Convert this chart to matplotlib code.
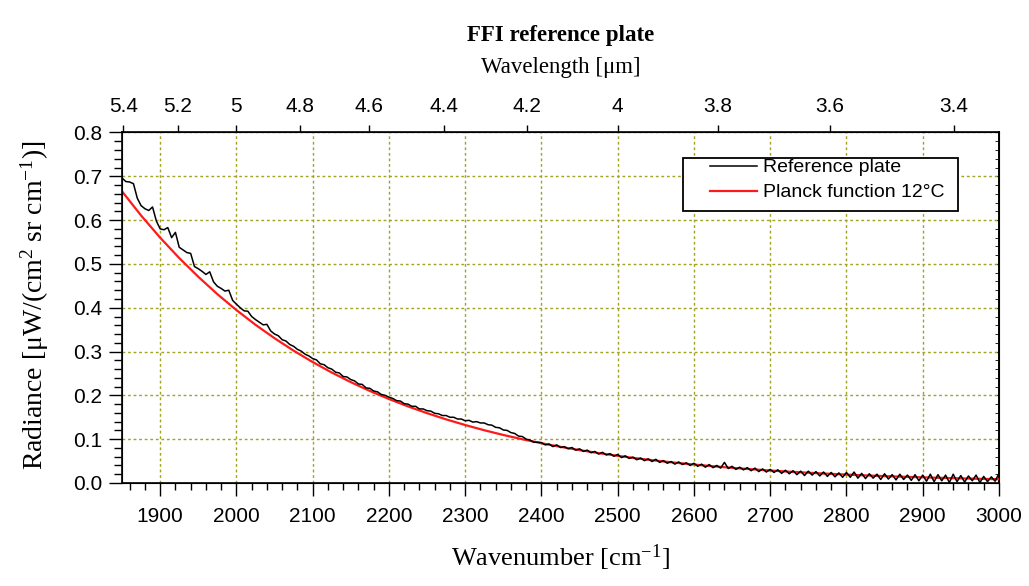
import numpy as np
import matplotlib.pyplot as plt
from matplotlib.ticker import MultipleLocator
from matplotlib.patches import Rectangle

plt.rcParams['mathtext.fontset'] = 'custom'
plt.rcParams['mathtext.rm'] = 'Liberation Serif'
plt.rcParams['mathtext.it'] = 'Liberation Serif:italic'

# measured plate spectrum, 5 cm-1 steps from 1850 to 3000
wavenumber = np.arange(1850, 3001, 5)
radiance = [
    0.696, 0.688, 0.687, 0.683, 0.650, 0.633, 0.626, 0.622, 0.630, 0.598,
    0.580, 0.578, 0.583, 0.560, 0.572, 0.538, 0.532, 0.526, 0.524, 0.494,
    0.489, 0.483, 0.476, 0.482, 0.459, 0.449, 0.444, 0.438, 0.440, 0.417,
    0.408, 0.400, 0.393, 0.392, 0.380, 0.373, 0.367, 0.361, 0.362, 0.347,
    0.340, 0.336, 0.327, 0.324, 0.316, 0.312, 0.305, 0.301, 0.294, 0.290,
    0.284, 0.281, 0.272, 0.270, 0.263, 0.260, 0.253, 0.251, 0.243, 0.242,
    0.236, 0.233, 0.226, 0.225, 0.217, 0.216, 0.210, 0.208, 0.202, 0.200,
    0.196, 0.193, 0.188, 0.187, 0.181, 0.180, 0.175, 0.175, 0.169, 0.169,
    0.165, 0.164, 0.159, 0.158, 0.154, 0.154, 0.150, 0.150, 0.146, 0.146,
    0.142, 0.143, 0.139, 0.140, 0.137, 0.137, 0.133, 0.132, 0.127, 0.126,
    0.121, 0.120, 0.115, 0.113, 0.107, 0.106, 0.100, 0.098, 0.093, 0.093,
    0.092, 0.087, 0.089, 0.083, 0.087, 0.081, 0.083, 0.078, 0.081, 0.075,
    0.078, 0.072, 0.075, 0.069, 0.072, 0.066, 0.070, 0.064, 0.067, 0.061,
    0.065, 0.058, 0.062, 0.056, 0.059, 0.053, 0.057, 0.051, 0.055, 0.049,
    0.054, 0.047, 0.051, 0.045, 0.049, 0.043, 0.048, 0.042, 0.046, 0.040,
    0.045, 0.038, 0.043, 0.036, 0.042, 0.035, 0.040, 0.034, 0.047, 0.033,
    0.038, 0.031, 0.036, 0.030, 0.035, 0.028, 0.034, 0.026, 0.032, 0.025,
    0.031, 0.024, 0.030, 0.022, 0.029, 0.021, 0.028, 0.019, 0.027, 0.017,
    0.027, 0.018, 0.026, 0.016, 0.025, 0.015, 0.024, 0.014, 0.023, 0.013,
    0.024, 0.013, 0.025, 0.011, 0.022, 0.010, 0.021, 0.011, 0.020, 0.008,
    0.021, 0.009, 0.019, 0.007, 0.020, 0.008, 0.018, 0.006, 0.019, 0.005,
    0.018, 0.004, 0.020, 0.003, 0.019, 0.005, 0.018, 0.001, 0.020, 0.003,
    0.017, 0.002, 0.016, 0.005, 0.018, 0.001, 0.015, 0.003, 0.014, 0.004,
    0.022,
]

# blackbody curve at 12 C, 25 cm-1 steps
planck_wn = np.arange(1850, 3001, 25)
planck = [
    0.6656, 0.6105, 0.5599, 0.5134, 0.4707, 0.4310, 0.3947, 0.3611,
    0.3304, 0.3020, 0.2760, 0.2521, 0.2302, 0.2100, 0.1917, 0.1748,
    0.1594, 0.1452, 0.1323, 0.1204, 0.1096, 0.0998, 0.0908, 0.0825,
    0.0750, 0.0682, 0.0620, 0.0563, 0.0511, 0.0464, 0.0421, 0.0382,
    0.0346, 0.0314, 0.0285, 0.0258, 0.0234, 0.0212, 0.0192, 0.0173,
    0.0157, 0.0142, 0.0129, 0.0116, 0.0105, 0.0095, 0.0086,
]

wl_ticks = [5.4, 5.2, 5.0, 4.8, 4.6, 4.4, 4.2, 4.0, 3.8, 3.6, 3.4]
wl_labels = ["5.4", "5.2", "5", "4.8", "4.6", "4.4", "4.2", "4", "3.8", "3.6", "3.4"]

SERIF = 'Liberation Serif'
SANS = 'Liberation Sans'
GRID = '#a3a323'

fig = plt.figure(figsize=(10.29, 5.86), dpi=100)
ax = fig.add_axes([0.1186, 0.1758, 0.8522, 0.5981])

red, = ax.plot(planck_wn, planck, color='#ff1a1a', lw=1.6, zorder=3,
               label='Planck function 12°C')
blk, = ax.plot(wavenumber, radiance, color='black', lw=1.1, zorder=4,
               label='Reference plate')

ax.set_xlim(1850, 3000)
ax.set_ylim(0, 0.8)
ax.xaxis.set_major_locator(MultipleLocator(100))
ax.xaxis.set_minor_locator(MultipleLocator(20))
ax.yaxis.set_major_locator(MultipleLocator(0.1))
ax.yaxis.set_minor_locator(MultipleLocator(0.02))
ax.yaxis.set_major_formatter(lambda v, p: f"{v:.1f}")
ax.tick_params(which='both', direction='out', top=False, right=False,
               labelsize=15, width=1)
ax.tick_params(axis='x', which='major', length=9.5, pad=8)
ax.tick_params(axis='x', which='minor', length=5)
ax.tick_params(axis='y', which='major', length=9.5, pad=5)
ax.tick_params(axis='y', which='minor', length=5.5)
for lab in ax.get_xticklabels() + ax.get_yticklabels():
    lab.set_family(SANS)
ax.grid(which='major', color=GRID, linestyle=(0, (2, 2)), linewidth=1)
for sp in ax.spines.values():
    sp.set_linewidth(1.2)

# inward ticks on the right edge
right = ax.secondary_yaxis('right')
right.yaxis.set_major_locator(MultipleLocator(0.1))
right.yaxis.set_minor_locator(MultipleLocator(0.02))
right.tick_params(which='both', direction='in', length=3, labelright=False)
right.spines['right'].set_linewidth(1.2)

# wavelength scale on top
top = ax.twiny()
top.set_xlim(ax.get_xlim())
top.set_xticks([1e4 / w for w in wl_ticks])
top.set_xticklabels(wl_labels, family=SANS)
top.tick_params(direction='out', length=5, width=1, pad=7, labelsize=15)

# legend box with a wide left margin
box = Rectangle((0.640, 0.776), 0.313, 0.151, transform=ax.transAxes,
                facecolor='white', edgecolor='black', lw=1.3, zorder=9)
ax.add_patch(box)
leg = ax.legend(handles=[blk, red], loc='upper left',
                bbox_to_anchor=(0.671, 0.925), borderaxespad=0,
                prop={'family': SANS, 'size': 14}, frameon=False,
                borderpad=0, handlelength=2.4, handletextpad=0.3,
                labelspacing=0.38)
leg.set_zorder(10)

fig.text(0.5446, 0.940, 'FFI reference plate', ha='center', va='center',
         fontsize=16.5, fontweight='bold', family=SERIF)
fig.text(0.5446, 0.884, 'Wavelength [μm]', ha='center', va='center',
         fontsize=16.5, family=SERIF)
fig.text(0.5446, 0.048, r'Wavenumber [cm$^{-1}$]', ha='center', va='center',
         fontsize=19, family=SERIF)
fig.text(0.034, 0.480, r'Radiance [μW/(cm$^{2}$ sr cm$^{-1}$)]', ha='center',
         va='center', rotation=90, fontsize=20, family=SERIF)

fig.savefig('out.png', dpi=100)
